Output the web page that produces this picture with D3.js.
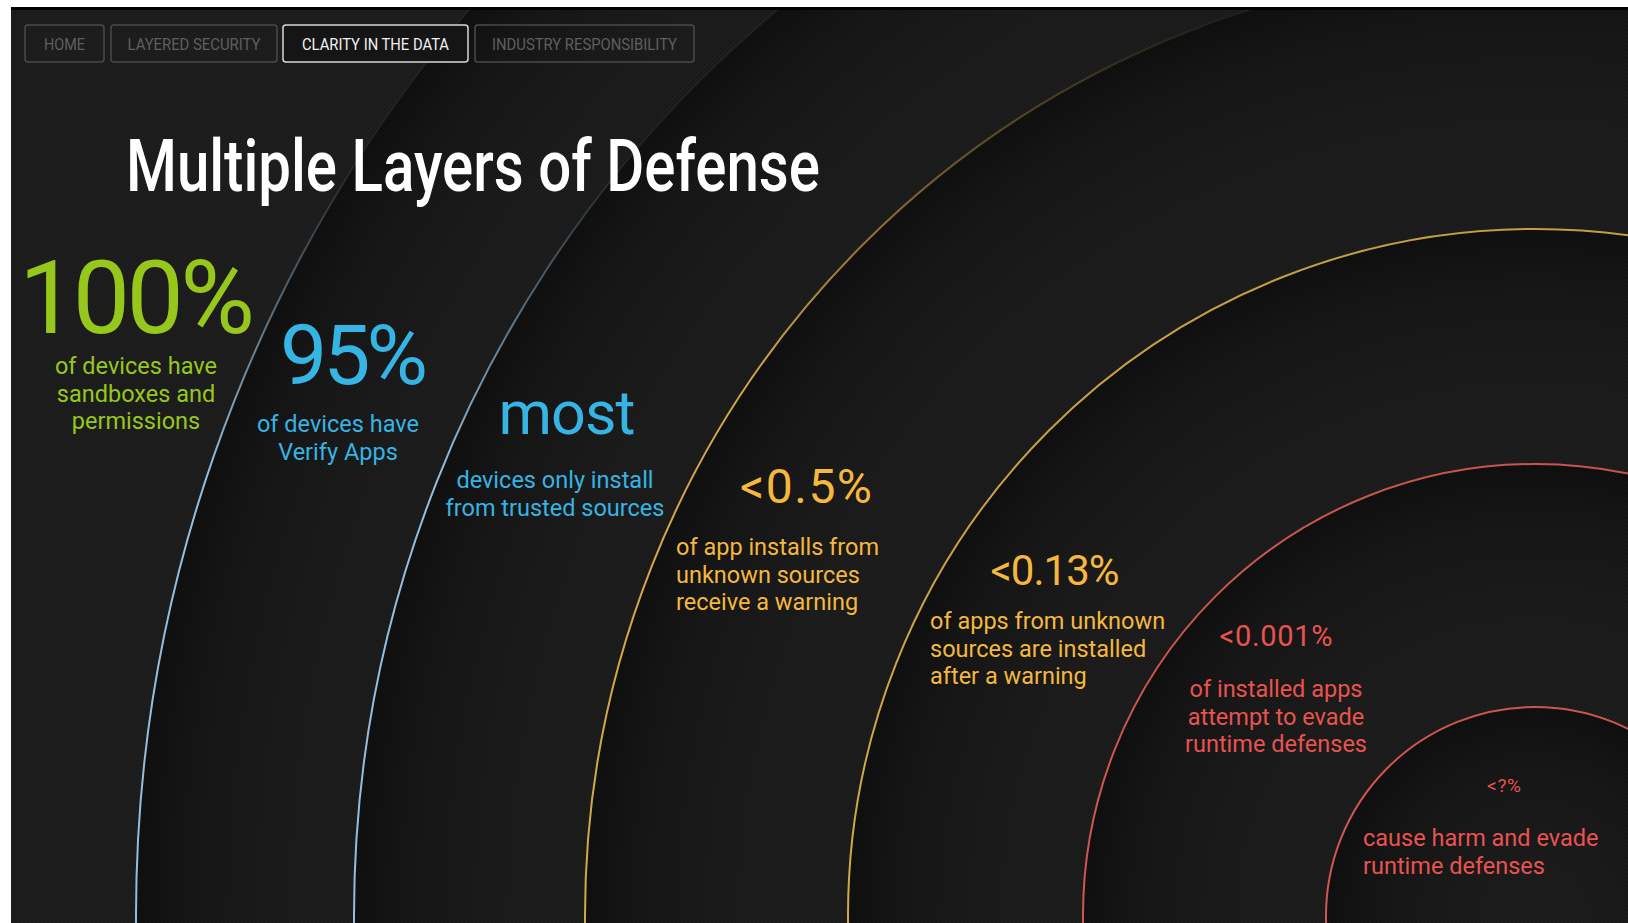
<html lang="en">
<head>
  <meta charset="UTF-8"/>
  <title>Multiple Layers of Defense</title>
  <script src="https://d3js.org/d3.v7.min.js"></script>
  <style>
    body { margin: 0; background: #ffffff; overflow: hidden; }
    text { font-family: Roboto, "Open Sans", sans-serif; }
  </style>
</head>
<body>
<svg id="chart"></svg>
<script>
// navigation tabs
const navItems = ["HOME", "LAYERED SECURITY", "CLARITY IN THE DATA", "INDUSTRY RESPONSIBILITY"];
const activeNav = "CLARITY IN THE DATA";

const title = "Multiple Layers of Defense";

// one entry per layer, outermost first (layer 0 sits outside every ring)
const layerValues = ["100%", "95%", "most", "<0.5%", "<0.13%", "<0.001%", "<?%"];
const layerNotes = [
  ["of devices have", "sandboxes and", "permissions"],
  ["of devices have", "Verify Apps"],
  ["devices only install", "from trusted sources"],
  ["of app installs from", "unknown sources", "receive a warning"],
  ["of apps from unknown", "sources are installed", "after a warning"],
  ["of installed apps", "attempt to evade", "runtime defenses"],
  ["cause harm and evade", "runtime defenses"]
];
const layerTier = ["sandbox", "verify", "verify", "warning", "warning", "runtime", "runtime"];
const ringLayers = [1, 2, 3, 4, 5, 6];

const W = 1628, H = 923;
const cx = 1535, cy = 916;

const textColor = d3.scaleOrdinal()
  .domain(["sandbox", "verify", "warning", "runtime"])
  .range(["#97c71c", "#36b4e4", "#f4b83e", "#e9534f"]);
const ringColor = d3.scaleOrdinal()
  .domain(["verify", "warning", "runtime"])
  .range(["#9cc6e6", "#dcb04a", "#dc5a55"]);
// ring radius by layer index
const radius = d3.scaleLinear().domain(ringLayers).range([1399, 1181, 950, 687, 452, 209]);

// where each layer's texts sit (big figure, then its note)
const layout = [
  {x: 137, y: 333, size: 102, w: 236, nx: 136, ny: 374, na: "middle"},
  {x: 354, y: 384, size: 84, w: 148, nx: 338, ny: 432, na: "middle"},
  {x: 567, y: 434, size: 61, w: 137, nx: 555, ny: 488, na: "middle"},
  {x: 806, y: 503, size: 48, w: 132, nx: 676, ny: 555, na: "start"},
  {x: 1055, y: 585, size: 42, w: 129, nx: 930, ny: 629, na: "start"},
  {x: 1276, y: 646, size: 29, w: 113, nx: 1276, ny: 697, na: "middle"},
  {x: 1504, y: 792, size: 19, w: 34, nx: 1363, ny: 846, na: "start"}
];
// stroke fade toward the top for the outer rings
const fade = [null, [160, 470], [160, 470], [20, 380], null, null, null];

const svg = d3.select("#chart").attr("width", W).attr("height", H);
const defs = svg.append("defs");

// page frame
svg.append("rect").attr("width", W).attr("height", H).attr("fill", "#ffffff");
svg.append("rect").attr("x", 11).attr("y", 7).attr("width", W - 11).attr("height", H - 7).attr("fill", "#000");
svg.append("rect").attr("x", 11).attr("y", 10).attr("width", W - 11).attr("height", H - 10).attr("fill", "#1c1c1c");

const g = svg.append("g");
g.append("clipPath").attr("id", "page").append("rect")
  .attr("x", 11).attr("y", 10).attr("width", W - 11).attr("height", H - 10);
const body = g.append("g").attr("clip-path", "url(#page)");

// discs, darkening toward their edge
ringLayers.forEach(function(k) {
  const r = radius(k);
  const grad = defs.append("radialGradient").attr("id", "disc" + k)
    .attr("gradientUnits", "userSpaceOnUse")
    .attr("cx", cx).attr("cy", cy).attr("r", r);
  grad.append("stop").attr("offset", Math.max(0, 1 - 170 / r)).attr("stop-color", "#1b1b1b");
  grad.append("stop").attr("offset", 1 - 55 / r).attr("stop-color", "#151515");
  grad.append("stop").attr("offset", 1).attr("stop-color", "#0e0e0e");
});
body.selectAll("circle.disc").data(ringLayers).join("circle")
  .attr("class", "disc")
  .attr("cx", cx).attr("cy", cy)
  .attr("r", d => radius(d))
  .attr("fill", d => "url(#disc" + d + ")");

// carbon texture, kept faint
const pat = defs.append("pattern").attr("id", "weave")
  .attr("width", 4).attr("height", 4).attr("patternUnits", "userSpaceOnUse");
pat.append("path").attr("d", "M0,4 L4,0").attr("stroke", "rgba(255,255,255,0.018)").attr("stroke-width", 1);
pat.append("path").attr("d", "M0,2 L2,0 M2,4 L4,2").attr("stroke", "rgba(0,0,0,0.08)").attr("stroke-width", 1);
body.append("rect").attr("x", 11).attr("y", 10).attr("width", W - 11).attr("height", H - 10)
  .attr("fill", "url(#weave)");

// ring strokes
ringLayers.forEach(function(k) {
  const grad = defs.append("linearGradient").attr("id", "ring" + k)
    .attr("gradientUnits", "userSpaceOnUse")
    .attr("x1", 0).attr("x2", 0);
  const col = ringColor(layerTier[k]);
  if (fade[k]) {
    grad.attr("y1", fade[k][0]).attr("y2", fade[k][1]);
    grad.append("stop").attr("offset", 0).attr("stop-color", col).attr("stop-opacity", 0.06);
    grad.append("stop").attr("offset", 1).attr("stop-color", col).attr("stop-opacity", 0.95);
  } else {
    grad.attr("y1", 0).attr("y2", H);
    grad.append("stop").attr("offset", 0).attr("stop-color", col).attr("stop-opacity", 0.85);
    grad.append("stop").attr("offset", 1).attr("stop-color", col).attr("stop-opacity", 0.95);
  }
});
body.selectAll("circle.ring").data(ringLayers).join("circle")
  .attr("class", "ring")
  .attr("cx", cx).attr("cy", cy)
  .attr("r", d => radius(d))
  .attr("fill", "none")
  .attr("stroke", d => "url(#ring" + d + ")")
  .attr("stroke-width", 2);

// nav tabs
const navBox = [[25, 104], [111, 277], [283, 468], [475, 694]];
const navTextW = [41, 133, 147, 185];
const nav = svg.append("g").selectAll("g").data(navItems).join("g");
nav.append("rect")
  .attr("x", (d, i) => navBox[i][0]).attr("y", 25)
  .attr("width", (d, i) => navBox[i][1] - navBox[i][0]).attr("height", 37)
  .attr("rx", 3)
  .attr("fill", d => d === activeNav ? "#151515" : "none")
  .attr("stroke", d => d === activeNav ? "#d8d8d8" : "#4a4a4a")
  .attr("stroke-width", 1.5);
nav.append("text")
  .attr("x", (d, i) => (navBox[i][0] + navBox[i][1]) / 2).attr("y", 49.5)
  .attr("text-anchor", "middle")
  .attr("font-size", 16)
  .attr("textLength", (d, i) => navTextW[i])
  .attr("lengthAdjust", "spacingAndGlyphs")
  .attr("fill", d => d === activeNav ? "#f2f2f2" : "#5f5f5f")
  .text(d => d);

// title
svg.append("text")
  .attr("x", 126).attr("y", 191)
  .attr("font-size", 72)
  .attr("font-weight", 500)
  .attr("textLength", 694)
  .attr("lengthAdjust", "spacingAndGlyphs")
  .attr("fill", "#ffffff")
  .text(title);

// layer figures and notes
const layer = svg.append("g").selectAll("g").data(layerValues).join("g");
layer.append("text")
  .attr("x", (d, i) => layout[i].x).attr("y", (d, i) => layout[i].y)
  .attr("text-anchor", "middle")
  .attr("font-size", (d, i) => layout[i].size)
  .attr("textLength", (d, i) => layout[i].w)
  .attr("lengthAdjust", "spacing")
  .attr("fill", (d, i) => textColor(layerTier[i]))
  .text(d => d);
layer.each(function(d, i) {
  const L = layout[i];
  d3.select(this).append("text")
    .attr("x", L.nx).attr("y", L.ny)
    .attr("text-anchor", L.na)
    .attr("font-size", 23.5)
    .attr("fill", textColor(layerTier[i]))
    .selectAll("tspan").data(layerNotes[i]).join("tspan")
    .attr("x", L.nx)
    .attr("dy", (t, j) => j === 0 ? 0 : 27.6)
    .text(t => t);
});
</script>
</body>
</html>
